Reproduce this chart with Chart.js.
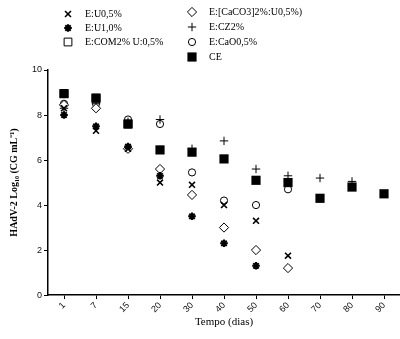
<!DOCTYPE html>
<html>
<head>
<meta charset="utf-8">
<script src="https://cdn.jsdelivr.net/npm/chart.js@4/dist/chart.umd.min.js"></script>
<style>
    html, body { margin: 0; padding: 0; background: #fff; }
    #chart { display: block; }
</style>
</head>
<body>
<canvas id="chart" width="400" height="339"></canvas>
<script>
;(() => {
    // dias de amostragem
    const days = ['1', '7', '15', '20', '30', '40', '50', '60', '70', '80', '90']

    // HAdV-2 log10 (CG/mL) por tratamento, null = sem ponto
    const u05 = [8.3, 7.3, 6.5, 5.0, 4.9, 4.0, 3.3, 1.75, null, null, null]
    const u10 = [8.0, 7.5, 6.6, 5.3, 3.5, 2.3, 1.3, null, null, null, null]
    const com = [8.95, 8.75, 7.6, null, null, null, null, null, null, null, null]
    const caco3 = [8.45, 8.3, 6.5, 5.6, 4.45, 3.0, 2.0, 1.2, null, null, null]
    const cz = [8.3, 8.5, 7.7, 7.8, 6.5, 6.85, 5.6, 5.3, 5.2, 5.05, null]
    const cao = [8.5, 8.5, 7.8, 7.6, 5.45, 4.2, 4.0, 4.7, null, null, null]
    const ce = [8.95, 8.75, 7.6, 6.45, 6.35, 6.05, 5.1, 5.0, 4.3, 4.8, 4.5]

    const yTicks = [0, 2, 4, 6, 8, 10]

    const series = [
        { label: 'E:U0,5%', data: u05, pointStyle: 'crossRot', radius: 4.2, bw: 1.6, fill: '#000' },
        { label: 'E:U1,0%', data: u10, pointStyle: 'star', radius: 3.8, bw: 2, fill: '#000' },
        { label: 'E:COM2% U:0,5%', data: com, pointStyle: 'rect', radius: 5.5, bw: 1, fill: '#fff' },
        { label: 'E:[CaCO3]2%:U0,5%)', data: caco3, pointStyle: 'rectRot', radius: 4.6, bw: 1, fill: '#fff' },
        { label: 'E:CZ2%', data: cz, pointStyle: 'cross', radius: 4.2, bw: 1, fill: '#000' },
        { label: 'E:CaO0,5%', data: cao, pointStyle: 'circle', radius: 3.6, bw: 1, fill: '#fff' },
        { label: 'CE', data: ce, pointStyle: 'rect', radius: 6.5, bw: 0, fill: '#000', order: -1 },
    ]

    // legenda em duas colunas, como no original
    const legendSlots = [
        [68, 14], [68, 28], [68, 42],
        [192, 12], [192, 27], [192, 42], [192, 57],
    ]

    const sideLegend = {
        id: 'sideLegend',
        afterDraw(chart) {
            const ctx = chart.ctx
            ctx.save()
            series.forEach((s, i) => {
                const [x, y] = legendSlots[i]
                ctx.fillStyle = s.fill
                ctx.strokeStyle = '#000'
                ctx.lineWidth = s.bw
                Chart.helpers.drawPoint(ctx, {
                    pointStyle: s.pointStyle,
                    radius: s.radius,
                    rotation: 0,
                    borderWidth: s.bw,
                }, x, y)
                ctx.fillStyle = '#000'
                ctx.font = '10px "Liberation Serif"'
                ctx.textBaseline = 'middle'
                ctx.textAlign = 'left'
                ctx.fillText(s.label, x + 17, y)
            })
            ctx.restore()
        },
    }

    new Chart(document.getElementById('chart'), {
        type: 'line',
        data: {
            labels: days,
            datasets: series.map((s) => ({
                label: s.label,
                data: s.data,
                order: s.order || 0,
                showLine: false,
                clip: false,
                pointStyle: s.pointStyle,
                pointRadius: s.radius,
                pointBorderWidth: s.bw,
                pointBackgroundColor: s.fill,
                pointBorderColor: '#000',
                borderColor: '#000',
                backgroundColor: s.fill,
            })),
        },
        options: {
            responsive: false,
            animation: false,
            devicePixelRatio: 1,
            layout: { autoPadding: false, padding: { top: 70, right: -7, left: 8, bottom: 10 } },
            plugins: {
                legend: { display: false },
                tooltip: { enabled: false },
            },
            scales: {
                x: {
                    offset: true,
                    grid: { display: true, drawOnChartArea: false, offset: false, tickLength: 4, color: '#000' },
                    border: { color: '#000', width: 1.5 },
                    ticks: {
                        color: '#111',
                        font: { family: '"Liberation Sans"', size: 9 },
                        minRotation: 45,
                        maxRotation: 45,
                        padding: 1,
                    },
                    title: {
                        display: true,
                        text: 'Tempo (dias)',
                        color: '#000',
                        font: { family: '"Liberation Serif"', size: 11 },
                        padding: { top: 0, bottom: 0 },
                    },
                },
                y: {
                    min: 0,
                    max: 10,
                    afterBuildTicks: (axis) => {
                        axis.ticks = yTicks.map((v) => ({ value: v }))
                    },
                    grid: { display: true, drawOnChartArea: false, tickLength: 4, color: '#000' },
                    border: { color: '#000', width: 1.5 },
                    ticks: {
                        color: '#111',
                        font: { family: '"Liberation Sans"', size: 9 },
                        padding: 2,
                    },
                    title: {
                        display: true,
                        text: 'HAdV-2 Log₁₀ (CG mL⁻¹)',
                        color: '#000',
                        font: { family: '"Liberation Serif"', size: 10, weight: 'bold' },
                        padding: { top: 0, bottom: 10 },
                    },
                },
            },
        },
        plugins: [sideLegend],
    })
})()
</script>
</body>
</html>
